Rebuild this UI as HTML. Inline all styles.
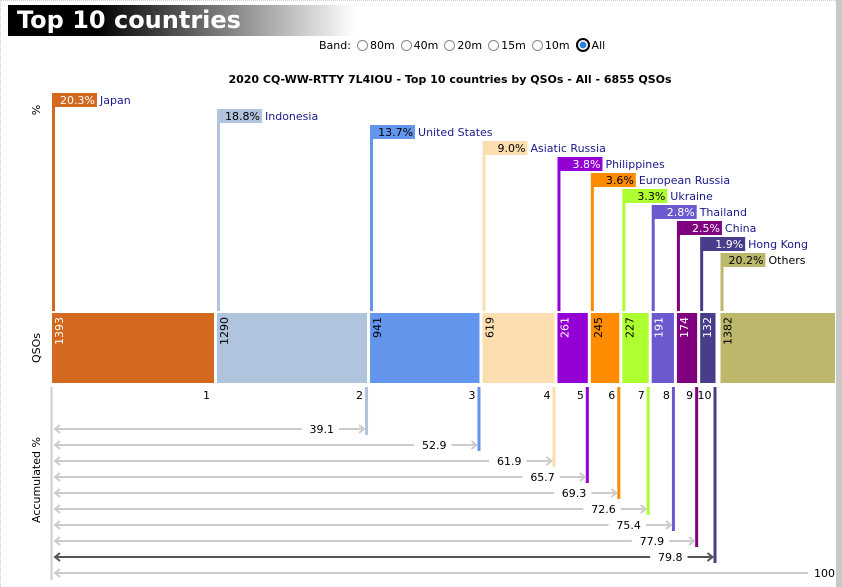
<!DOCTYPE html>
<html><head><meta charset="utf-8">
<style>
body{margin:0;width:842px;height:587px;overflow:hidden;background:#fff;font-family:"DejaVu Sans","Liberation Sans",sans-serif;position:relative}
#frame{position:absolute;left:0;top:0;width:836px;height:587px;border-top:1px dotted #ccc;border-left:1px dotted #ccc;box-sizing:border-box}
#sb{position:absolute;left:836px;top:0;width:6px;height:587px;background:#c8c8c8}
#title{position:absolute;left:8px;top:5px;width:348px;height:31px;background:linear-gradient(to right,#000 0%,#000 25%,#888 65%,#fff 100%);color:#fff;font-weight:bold;font-size:24px;line-height:31px;padding-left:9px;box-sizing:border-box}
#band{position:absolute;left:319px;top:38px;font-size:11px;color:#000;display:flex;align-items:center;gap:2px}
.rb{display:inline-block;width:11px;height:11px;border:1px solid #888;border-radius:50%;box-sizing:border-box;vertical-align:middle;margin-left:4px}
.rb.on{border:2px solid #000;background:radial-gradient(circle,#2a7fe8 45%,#fff 50%);width:14px;height:14px}
</style></head><body>
<div id="frame"></div>
<div id="sb"></div>
<div id="title">Top 10 countries</div>
<div id="band">Band:
<span class="rb"></span><span>80m</span>
<span class="rb"></span><span>40m</span>
<span class="rb"></span><span>20m</span>
<span class="rb"></span><span>15m</span>
<span class="rb"></span><span>10m</span>
<span class="rb on"></span><span>All</span>
</div>
<svg id="chart" width="842" height="587" style="position:absolute;left:0;top:0"></svg>
<script>
const countries=["Japan","Indonesia","United States","Asiatic Russia","Philippines","European Russia","Ukraine","Thailand","China","Hong Kong"];
const qsos=[1393,1290,941,619,261,245,227,191,174,132];
const pcts=[20.3,18.8,13.7,9.0,3.8,3.6,3.3,2.8,2.5,1.9];
const accum=[20.3,39.1,52.9,61.9,65.7,69.3,72.6,75.4,77.9,79.8];
const othersQsos=1382, othersPct=20.2, totalQsos=6855;
const colors=["#d2691e","#b0c4de","#6495ed","#fddeb0","#9400d3","#ff8c00","#adff2f","#6a5acd","#800080","#483d8b"];
const textCols=["#fff","#000","#000","#000","#fff","#000","#000","#fff","#fff","#fff"];
const NS="http://www.w3.org/2000/svg";
const svg=document.getElementById('chart');
function el(t,a,txt){const e=document.createElementNS(NS,t);for(const k in a)e.setAttribute(k,a[k]);if(txt!=null)e.textContent=txt;svg.appendChild(e);return e;}
const X0=52,K=0.1163,GAP=3,BAR_T=313,BAR_B=383;
function xStart(i){let c=0;for(let j=0;j<i;j++)c+=qsos[j];return X0+c*K+i*GAP;}
function xEnd(i){return xStart(i)+qsos[i]*K;}
function rowY(i){return 100+i*16;}
function arrowY(i){return 429+(i-1)*16;}
let t=el('text',{x:450,y:83,'text-anchor':'middle','font-size':11,'font-weight':'bold'},'2020 CQ-WW-RTTY 7L4IOU - Top 10 countries by QSOs - All - '+totalQsos+' QSOs');

t=el('text',{x:0,y:0,'font-size':11,transform:'translate(40,110) rotate(-90)','text-anchor':'middle'},'%');

t=el('text',{x:0,y:0,'font-size':11,transform:'translate(40,348) rotate(-90)','text-anchor':'middle'},'QSOs');

t=el('text',{x:0,y:0,'font-size':11,transform:'translate(40,480) rotate(-90)','text-anchor':'middle'},'Accumulated %');

let ax=el('line',{x1:51.5,y1:387,x2:51.5,y2:580,stroke:'#ccc','stroke-width':2});

function labelRow(x,y,col,tcol,pct,name,ncol,idx){
  let r=el('rect',{x:x,y:y-7,width:45,height:14,fill:col});
  
  el('text',{x:x+43,y:y+4,'text-anchor':'end','font-size':11,fill:tcol},pct.toFixed(1)+'%');
  let n=el('text',{x:x+48,y:y+4,'font-size':11,fill:ncol},name);
  
  let v=el('rect',{x:x,y:y+7,width:3,height:311-(y+7),fill:col});
  
}
function arrow(xl,xr,y,label,col,idx){
  const tw=label.length*6.6;const tx=xr-30;
  let g=el('line',{x1:56,y1:y,x2:tx-tw-6,y2:y,stroke:col,'stroke-width':2});
  
  el('text',{x:tx,y:y+4,'text-anchor':'end','font-size':11},label);
  el('line',{x1:tx+5,y1:y,x2:xr,y2:y,stroke:col,'stroke-width':2});
  el('polyline',{points:(xr-5)+','+(y-4)+' '+xr+','+y+' '+(xr-5)+','+(y+4),fill:'none',stroke:col,'stroke-width':2});
  el('polyline',{points:'60,'+(y-4)+' 55,'+y+' 60,'+(y+4),fill:'none',stroke:col,'stroke-width':2});
}
for(let i=0;i<qsos.length;i++){
  const xs=xStart(i),xe=xEnd(i);
  labelRow(xs,rowY(i),colors[i],textCols[i],pcts[i],countries[i],'#1a1a8c',i);
  let b=el('rect',{x:xs,y:BAR_T,width:xe-xs,height:BAR_B-BAR_T,fill:colors[i]});
  
  el('text',{x:0,y:0,'font-size':11,fill:textCols[i],transform:'translate('+(xs+11)+','+(BAR_T+4)+') rotate(-90)','text-anchor':'end'},String(qsos[i]));
  if(i>0){
    const y2=arrowY(i)+6;
    let m=el('rect',{x:xe-2,y:387,width:3,height:y2-387,fill:colors[i]});
    
    arrow(56,xe-3,arrowY(i),accum[i].toFixed(1),i==9?'#555':'#ccc',i);
  }
  el('text',{x:xe-4,y:399,'text-anchor':'end','font-size':11},String(i+1));
}
const ox=xEnd(9)+GAP+2;
labelRow(ox,rowY(10),'#bdb76b','#000',othersPct,'Others','#000','others');
let ob=el('rect',{x:ox,y:BAR_T,width:835-ox,height:BAR_B-BAR_T,fill:'#bdb76b'});

el('text',{x:0,y:0,'font-size':11,fill:'#000',transform:'translate('+(ox+11)+','+(BAR_T+4)+') rotate(-90)','text-anchor':'end'},String(othersQsos));
let l=el('line',{x1:56,y1:573,x2:808,y2:573,stroke:'#ccc','stroke-width':2});

el('polyline',{points:'60,569 55,573 60,577',fill:'none',stroke:'#ccc','stroke-width':2});
el('text',{x:835,y:577,'text-anchor':'end','font-size':11},'100');
</script>
</body></html>
